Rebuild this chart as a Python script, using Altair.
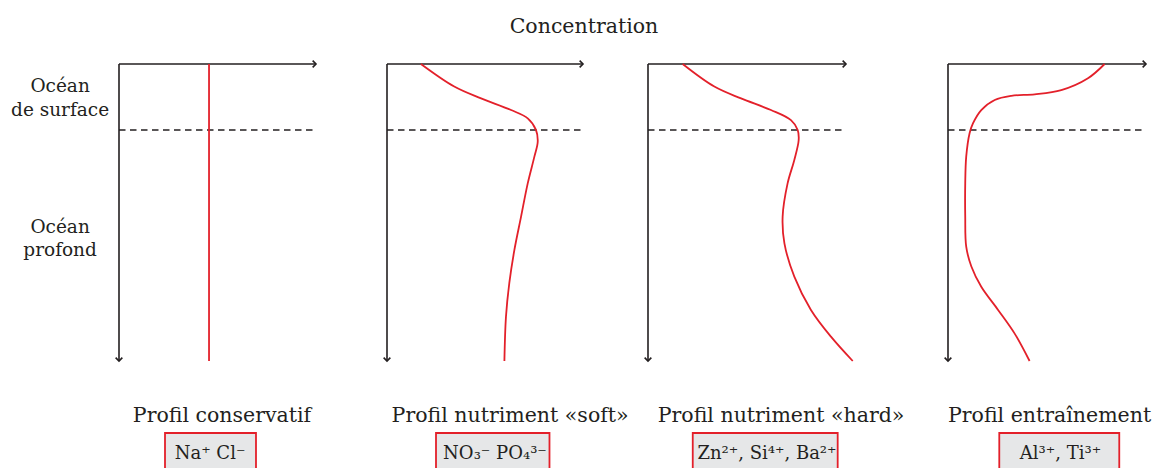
import altair as alt
import pandas as pd

# ---- Profile curves ------------------------------------------------------
# concentration: 0 = vertical axis, 1 = tip of the horizontal arrow
# depth: 0 = sea surface (top axis), 1 = bottom of the depth arrow
cons_conc = [0.457, 0.457]
cons_depth = [0.0, 1.0]

soft_conc = [0.173, 0.343, 0.480, 0.633, 0.718, 0.760, 0.769, 0.752, 0.718,
             0.684, 0.650, 0.624, 0.607, 0.599]
soft_depth = [0.0, 0.076, 0.116, 0.155, 0.183, 0.222, 0.262, 0.312, 0.402,
              0.514, 0.626, 0.738, 0.851, 1.0]

hard_conc = [0.175, 0.335, 0.470, 0.621, 0.722, 0.756, 0.761, 0.739, 0.705,
             0.680, 0.689, 0.739, 0.823, 0.924, 1.034]
hard_depth = [0.0, 0.076, 0.116, 0.155, 0.189, 0.222, 0.256, 0.323, 0.402,
              0.514, 0.604, 0.716, 0.828, 0.918, 1.0]

scav_conc = [0.791, 0.707, 0.572, 0.438, 0.320, 0.236, 0.168, 0.126, 0.109,
             0.092, 0.087, 0.087, 0.092, 0.118, 0.168, 0.253, 0.336, 0.412]
scav_depth = [0.0, 0.048, 0.088, 0.102, 0.107, 0.121, 0.155, 0.200, 0.233,
              0.312, 0.402, 0.514, 0.615, 0.682, 0.750, 0.828, 0.907, 1.0]

mixed_layer_depth = 0.222

# ---- Texts -----------------------------------------------------------------
profile_names = ["Profil conservatif", "Profil nutriment «soft»",
                 "Profil nutriment «hard»", "Profil entraînement"]
ion_labels = ["Na⁺ Cl⁻", "NO₃⁻ PO₄³⁻", "Zn²⁺, Si⁴⁺, Ba²⁺", "Al³⁺, Ti³⁺"]
x_title = "Concentration"
layer_names = [["Océan", "de surface"], ["Océan", "profond"]]

# ---- Layout ------------------------------------------------------------------
# Each panel occupies a slot that runs from its depth axis to the next panel's
# depth axis; the concentration axis itself is AXIS_LEN pixels long.
AXIS_LEN = [197, 196, 198, 198]
SLOT_W = [268, 261, 300, 198]
PANEL_H = 468
D_TOP, D_BOT = -0.2155, 1.3603
LEFT_EDGE = -0.599          # left border of the page, in panel-1 units
label_x = [0.523, 0.628, 0.672, 0.513]
label_d = 1.2054
box_x = [(0.2335, 0.6954), (0.250, 0.829), (0.226, 0.958), (0.259, 0.865)]
box_d = (1.2424, 1.40)
ion_x = [0.462, 0.551, 0.601, 0.568]
ion_d = 1.330

RED = "#e3202a"
INK = "#231f20"
BOX_FILL = "#e6e7e8"
FONT = "DejaVu Serif"


def X(i, f="c"):
    return alt.X(f"{f}:Q", axis=None,
                 scale=alt.Scale(domain=[0, SLOT_W[i] / AXIS_LEN[i]], nice=False, zero=False))


def Y(f="d"):
    return alt.Y(f"{f}:Q", axis=None,
                 scale=alt.Scale(domain=[D_TOP, D_BOT], reverse=True, nice=False, zero=False))


def text_layer(df, i, size):
    return alt.Chart(df).mark_text(font=FONT, fontSize=size, color=INK,
                                   baseline="alphabetic", align="center").encode(
        x=X(i), y=Y(), text="t:N")


def panel(i, conc, depth, extra_layers=None):
    frame = pd.DataFrame({"c": [0, 0], "d": [0, 0], "c2": [1, 0], "d2": [0, 1]})
    axes = alt.Chart(frame).mark_rule(color=INK, strokeWidth=1.6).encode(
        x=X(i), y=Y(), x2="c2:Q", y2="d2:Q")

    heads = pd.DataFrame({"c": [1, 0], "d": [0, 1],
                          "s": ["M-1,-1L0,0L-1,1", "M-1,-1L0,0L1,-1"]})
    arrows = alt.Chart(heads).mark_point(filled=False, color=INK, strokeWidth=1.6,
                                         size=45, opacity=1).encode(
        x=X(i), y=Y(), shape=alt.Shape("s:N", scale=None))

    dash_df = pd.DataFrame({"c": [0], "d": [mixed_layer_depth], "c2": [1]})
    dashed = alt.Chart(dash_df).mark_rule(color=INK, strokeWidth=1.5,
                                          strokeDash=[6.5, 4.5]).encode(
        x=X(i), y=Y(), x2="c2:Q")

    curve_df = pd.DataFrame({"c": conc, "d": depth, "i": range(len(conc))})
    curve = alt.Chart(curve_df).mark_line(color=RED, strokeWidth=1.8,
                                          interpolate="catmull-rom").encode(
        x=X(i), y=Y(), order="i:Q")

    name = text_layer(pd.DataFrame({"c": [label_x[i]], "d": [label_d],
                                    "t": [profile_names[i]]}), i, 20.5)

    box_df = pd.DataFrame({"c": [box_x[i][0]], "c2": [box_x[i][1]],
                           "d": [box_d[0]], "d2": [box_d[1]]})
    box = alt.Chart(box_df).mark_rect(fill=BOX_FILL, stroke=RED, strokeWidth=1.8).encode(
        x=X(i), x2="c2:Q", y=Y(), y2="d2:Q")

    ions = text_layer(pd.DataFrame({"c": [ion_x[i]], "d": [ion_d],
                                    "t": [ion_labels[i]]}), i, 18)

    layers = [axes, arrows, dashed, curve, name, box, ions]
    if extra_layers is not None:
        layers += extra_layers
    return alt.layer(*layers).properties(width=SLOT_W[i], height=PANEL_H)


# side labels for the two ocean layers (left of the first panel)
side = text_layer(pd.DataFrame({
    "c": [-0.299] * 4,
    "d": [0.0943, 0.175, 0.569, 0.648],
    "t": layer_names[0] + layer_names[1],
}), 0, 18.5)

# transparent strip that pins the page's left border
edge_df = pd.DataFrame({"c": [LEFT_EDGE], "c2": [0], "d": [D_TOP], "d2": [0]})
edge = alt.Chart(edge_df).mark_rect(opacity=0).encode(
    x=X(0), x2="c2:Q", y=Y(), y2="d2:Q")

# common title for the concentration axes
title = text_layer(pd.DataFrame({"c": [1.005], "d": [-0.1044], "t": [x_title]}), 1, 20.5)

p1 = panel(0, cons_conc, cons_depth, [edge, side])
p2 = panel(1, soft_conc, soft_depth, [title])
p3 = panel(2, hard_conc, hard_depth)
p4 = panel(3, scav_conc, scav_depth)

row = alt.hconcat(p1, p2, p3, p4, spacing=0, bounds="flush").properties(
    padding=0,
    background="white",
).configure_view(stroke=None)

row.save("out.html", embed_options={"renderer": "svg", "actions": False})
